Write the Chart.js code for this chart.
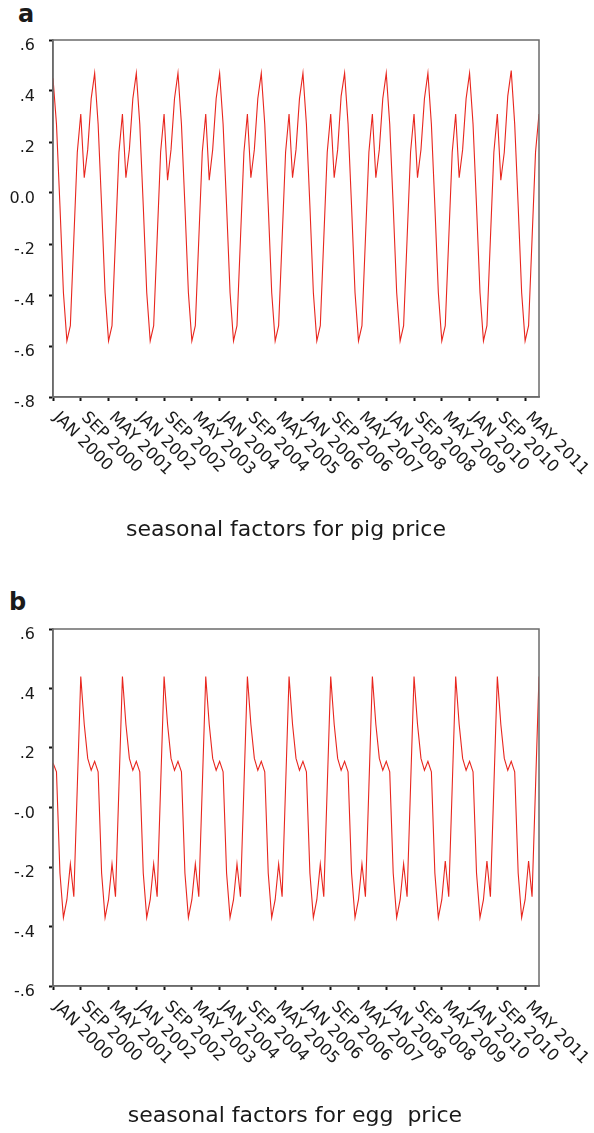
<!DOCTYPE html>
<html>
<head>
<meta charset="utf-8">
<script src="https://cdn.jsdelivr.net/npm/chart.js@4/dist/chart.umd.min.js"></script>
<style>
  html, body { margin: 0; padding: 0; background: #fff; }
  body { width: 594px; height: 1133px; position: relative; overflow: hidden; font-family: "DejaVu Sans", Verdana, sans-serif; color: #1a1a1a; }
  canvas { position: absolute; left: 0; }
  .panel-tag { position: absolute; font-weight: bold; font-size: 24px; line-height: 1; }
  .caption { position: absolute; left: 0; font-size: 22px; line-height: 1; text-align: center; white-space: pre; }
</style>
</head>
<body>
<div class="panel-tag" style="left:18px; top:2px;">a</div>
<canvas id="pig-chart" width="594" height="560" style="top:0px"></canvas>
<div class="caption" style="top:518px; width:572px;">seasonal factors for pig price</div>

<div class="panel-tag" style="left:9px; top:590px;">b</div>
<canvas id="egg-chart" width="594" height="558" style="top:575px"></canvas>
<div class="caption" style="top:1104px; width:590px;">seasonal factors for egg  price</div>

<script>
/* ── data: monthly seasonal factors, JAN 2000 .. SEP 2011 ── */

const pigFactors = [
  0.45, 0.27, -0.05, -0.39, -0.58, -0.52, -0.18, 0.16, 0.31, 0.06, 0.17, 0.37,   // 2000
  0.47, 0.27, -0.05, -0.39, -0.58, -0.52, -0.18, 0.16, 0.31, 0.06, 0.17, 0.37,   // 2001
  0.47, 0.27, -0.05, -0.39, -0.58, -0.52, -0.18, 0.16, 0.31, 0.05, 0.17, 0.37,   // 2002
  0.47, 0.27, -0.05, -0.39, -0.58, -0.52, -0.18, 0.16, 0.31, 0.05, 0.17, 0.37,   // 2003
  0.47, 0.27, -0.05, -0.39, -0.58, -0.52, -0.18, 0.16, 0.31, 0.06, 0.17, 0.37,   // 2004
  0.47, 0.27, -0.05, -0.39, -0.58, -0.52, -0.18, 0.16, 0.31, 0.06, 0.17, 0.37,   // 2005
  0.47, 0.27, -0.05, -0.39, -0.58, -0.52, -0.18, 0.16, 0.31, 0.06, 0.17, 0.38,   // 2006
  0.47, 0.27, -0.05, -0.39, -0.58, -0.52, -0.18, 0.16, 0.31, 0.06, 0.17, 0.37,   // 2007
  0.47, 0.27, -0.05, -0.39, -0.58, -0.52, -0.18, 0.16, 0.31, 0.06, 0.17, 0.37,   // 2008
  0.47, 0.27, -0.05, -0.39, -0.58, -0.52, -0.18, 0.16, 0.31, 0.06, 0.17, 0.37,   // 2009
  0.47, 0.27, -0.05, -0.39, -0.58, -0.52, -0.18, 0.16, 0.31, 0.05, 0.16, 0.38,   // 2010
  0.48, 0.27, -0.05, -0.39, -0.58, -0.52, -0.18, 0.16, 0.31,                     // 2011
];

const eggFactors = [
  0.15, 0.12, -0.22, -0.37, -0.31, -0.19, -0.30, 0.07, 0.44, 0.28, 0.165, 0.125,  // 2000
  0.155, 0.12, -0.22, -0.37, -0.31, -0.19, -0.30, 0.07, 0.44, 0.28, 0.165, 0.125, // 2001
  0.155, 0.12, -0.22, -0.37, -0.31, -0.19, -0.30, 0.07, 0.44, 0.28, 0.165, 0.125, // 2002
  0.155, 0.12, -0.22, -0.37, -0.31, -0.19, -0.30, 0.07, 0.44, 0.28, 0.165, 0.125, // 2003
  0.155, 0.12, -0.22, -0.37, -0.31, -0.19, -0.30, 0.07, 0.44, 0.28, 0.165, 0.125, // 2004
  0.155, 0.12, -0.22, -0.37, -0.31, -0.19, -0.30, 0.07, 0.44, 0.28, 0.165, 0.125, // 2005
  0.155, 0.12, -0.22, -0.37, -0.31, -0.19, -0.30, 0.07, 0.44, 0.28, 0.165, 0.125, // 2006
  0.155, 0.12, -0.22, -0.37, -0.31, -0.19, -0.30, 0.07, 0.44, 0.28, 0.165, 0.125, // 2007
  0.155, 0.12, -0.22, -0.37, -0.31, -0.19, -0.30, 0.07, 0.44, 0.28, 0.165, 0.125, // 2008
  0.155, 0.12, -0.22, -0.37, -0.31, -0.18, -0.30, 0.07, 0.44, 0.28, 0.165, 0.125, // 2009
  0.155, 0.12, -0.22, -0.37, -0.31, -0.18, -0.30, 0.07, 0.44, 0.28, 0.165, 0.125, // 2010
  0.155, 0.12, -0.22, -0.37, -0.31, -0.18, -0.30, 0.07, 0.44,                     // 2011
];

// x axis: month index (0 = JAN 2000), a tick every 8 months
const xTickMonths = [0, 8, 16, 24, 32, 40, 48, 56, 64, 72, 80, 88, 96, 104, 112, 120, 128, 136];
const xTickLabels = [
  'JAN 2000', 'SEP 2000', 'MAY 2001', 'JAN 2002', 'SEP 2002', 'MAY 2003',
  'JAN 2004', 'SEP 2004', 'MAY 2005', 'JAN 2006', 'SEP 2006', 'MAY 2007',
  'JAN 2008', 'SEP 2008', 'MAY 2009', 'JAN 2010', 'SEP 2010', 'MAY 2011',
];

const pigYTicks = [0.6, 0.4, 0.2, 0, -0.2, -0.4, -0.6, -0.8];
const pigYLabels = ['.6', '.4', '.2', '0.0', '-.2', '-.4', '-.6', '-.8'];
const eggYTicks = [0.6, 0.4, 0.2, 0, -0.2, -0.4, -0.6];
const eggYLabels = ['.6', '.4', '.2', '-.0', '-.2', '-.4', '-.6'];

const FONT = '"DejaVu Sans", Verdana, sans-serif';
const LINE_RED = 'rgb(232, 38, 30)';

// rotated month labels (top-left to bottom-right, starting at the tick)
const slantLabels = {
    id: 'slantLabels',
    afterDraw(chart) {
        const xs = chart.scales.x;
        const ctx = chart.ctx;
        ctx.save();
        ctx.fillStyle = '#1a1a1a';
        ctx.font = '16.5px ' + FONT;
        ctx.textAlign = 'left';
        ctx.textBaseline = 'middle';
        xs.ticks.forEach((t) => {
            const idx = xTickMonths.indexOf(t.value);
            if (idx < 0) return;
            const px = xs.getPixelForValue(t.value);
            ctx.save();
            ctx.translate(px + 3, chart.chartArea.bottom + 18);
            ctx.rotate(Math.PI / 4);
            ctx.fillText(xTickLabels[idx], 0, 0);
            ctx.restore();
        });
        ctx.restore();
    },
};

// frame around the plot area
const plotFrame = {
    id: 'plotFrame',
    afterDatasetsDraw(chart) {
        const a = chart.chartArea;
        const ctx = chart.ctx;
        ctx.save();
        ctx.strokeStyle = '#6b6b6b';
        ctx.lineWidth = 1.5;
        ctx.strokeRect(a.left, a.top, a.right - a.left, a.bottom - a.top);
        ctx.restore();
    },
};

function makeChart(canvasId, values, yMin, yMax, yTicks, yLabels, padTop, xHeight) {
    const canvas = document.getElementById(canvasId);
    const points = values.map((v, i) => ({ x: i, y: v }));

    return new Chart(canvas, {
        type: 'line',
        data: {
            datasets: [{
                data: points,
                borderColor: LINE_RED,
                borderWidth: 1.1,
                pointRadius: 0,
                tension: 0,
                fill: false,
            }],
        },
        options: {
            responsive: false,
            animation: false,
            layout: { padding: { left: 0, right: 55, top: padTop, bottom: 0 } },
            plugins: { legend: { display: false }, tooltip: { enabled: false } },
            scales: {
                x: {
                    type: 'linear',
                    min: 0,
                    max: values.length - 1,
                    afterBuildTicks: (s) => { s.ticks = xTickMonths.map(v => ({ value: v })); },
                    afterFit: (s) => { s.height = xHeight; },
                    ticks: { display: false },
                    grid: {
                        display: true, drawOnChartArea: false, drawTicks: true,
                        tickLength: 4, tickWidth: 2, tickColor: '#111',
                    },
                    border: { display: true, color: '#6b6b6b', width: 1.5 },
                },
                y: {
                    min: yMin,
                    max: yMax,
                    afterBuildTicks: (s) => { s.ticks = yTicks.map(v => ({ value: v })); },
                    afterFit: (s) => { s.width = 53; },
                    ticks: {
                        padding: 14,
                        labelOffset: 6,
                        color: '#1a1a1a',
                        font: { family: FONT, size: 16 },
                        callback: (v) => {
                            const k = yTicks.findIndex(t => Math.abs(t - v) < 1e-9);
                            return k >= 0 ? yLabels[k] : '';
                        },
                    },
                    grid: {
                        display: true, drawOnChartArea: false, drawTicks: true,
                        tickLength: 4, tickWidth: 2, tickColor: '#111',
                    },
                    border: { display: true, color: '#6b6b6b', width: 1.5 },
                },
            },
        },
        plugins: [plotFrame, slantLabels],
    });
}

// a: plot area 53..539 x 40..397
makeChart('pig-chart', pigFactors, -0.8, 0.6, pigYTicks, pigYLabels, 40, 560 - 397);
// b: plot area 53..539 x 629..986 (canvas starts at 575)
makeChart('egg-chart', eggFactors, -0.6, 0.6, eggYTicks, eggYLabels, 54, 558 - 411);
</script>
</body>
</html>
